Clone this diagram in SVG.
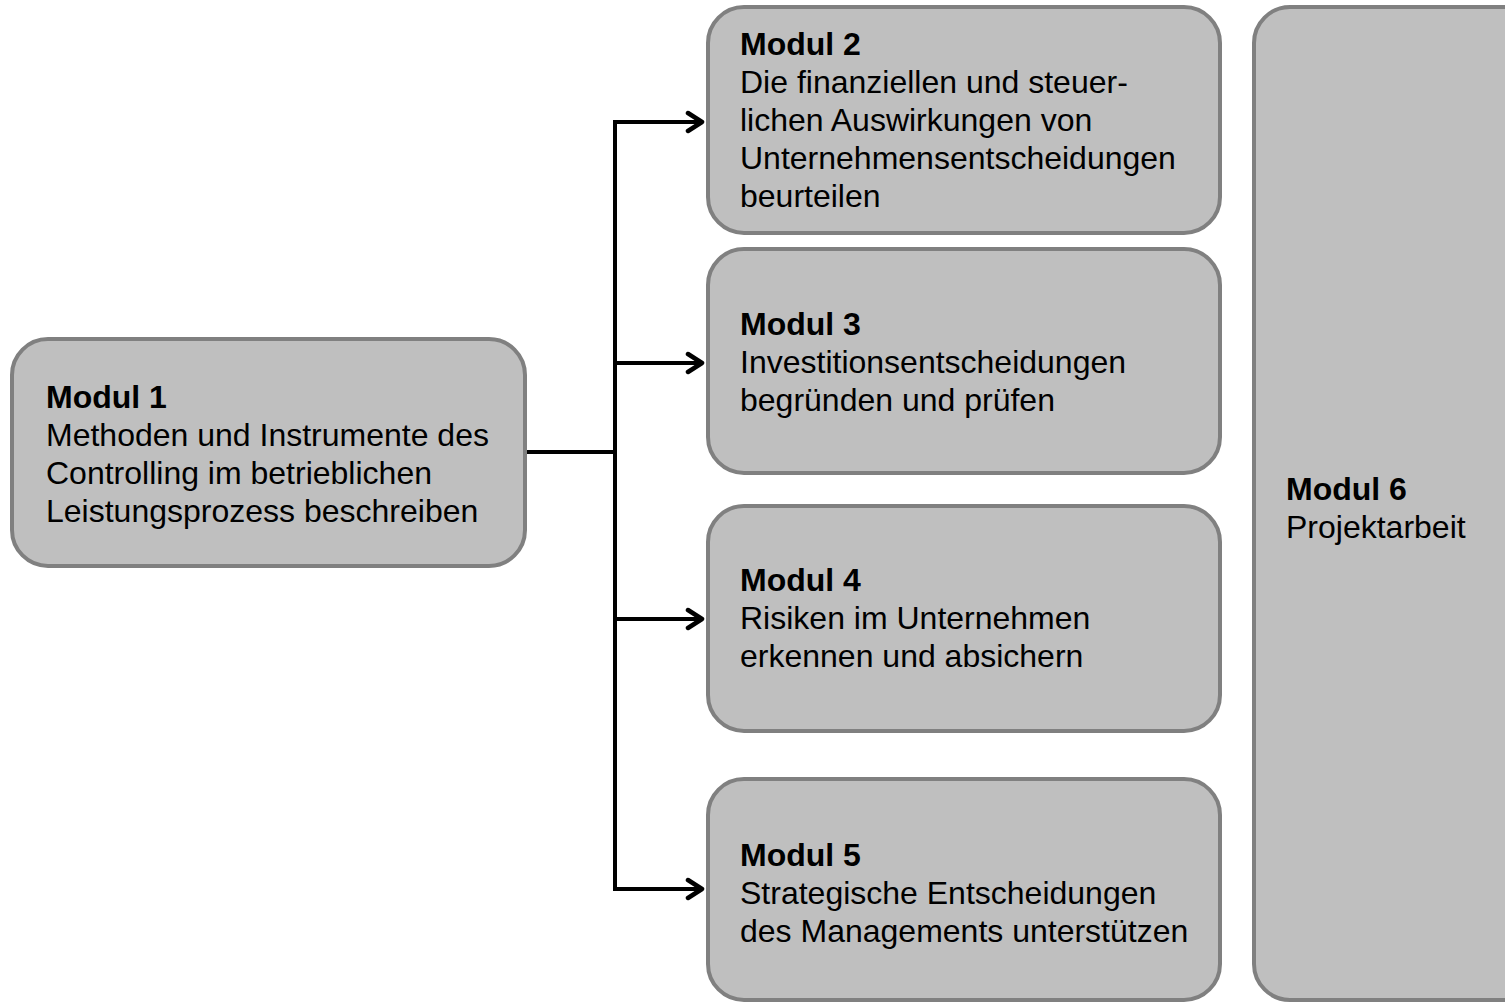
<svg xmlns="http://www.w3.org/2000/svg" width="1505" height="1005" viewBox="0 0 1505 1005">
<defs>
<style>
.box{fill:#bfbfbf;stroke:#808080;stroke-width:4}
.t{font-family:"Liberation Sans",Arial,sans-serif;font-size:32px;fill:#000}
.b{font-weight:bold}
.c{fill:none;stroke:#000;stroke-width:4}
</style>
<marker id="arr" markerWidth="20" markerHeight="24" refX="17" refY="12" orient="auto" markerUnits="userSpaceOnUse">
<path d="M3,3 L17,12 L3,21" fill="none" stroke="#000" stroke-width="4.5" stroke-linecap="round" stroke-linejoin="round"/>
</marker>
</defs>
<rect width="1505" height="1005" fill="#fff"/>
<g id="connectors">
<path class="c" d="M525,452 H617"/>
<path class="c" d="M615,120 V891"/>
<path class="c" d="M613,122 H702" marker-end="url(#arr)"/>
<path class="c" d="M615,363 H702" marker-end="url(#arr)"/>
<path class="c" d="M615,619 H702" marker-end="url(#arr)"/>
<path class="c" d="M613,889 H702" marker-end="url(#arr)"/>
</g>
<g id="modul1">
<rect class="box" x="12" y="339" width="513" height="227" rx="36"/>
<text class="t" x="46" y="408"><tspan class="b">Modul 1</tspan><tspan x="46" dy="38">Methoden und Instrumente des</tspan><tspan x="46" dy="38">Controlling im betrieblichen</tspan><tspan x="46" dy="38">Leistungsprozess beschreiben</tspan></text>
</g>
<g id="modul2">
<rect class="box" x="708" y="7" width="512" height="226" rx="36"/>
<text class="t" x="740" y="55"><tspan class="b">Modul 2</tspan><tspan x="740" dy="38">Die finanziellen und steuer-</tspan><tspan x="740" dy="38">lichen Auswirkungen von</tspan><tspan x="740" dy="38">Unternehmensentscheidungen</tspan><tspan x="740" dy="38">beurteilen</tspan></text>
</g>
<g id="modul3">
<rect class="box" x="708" y="249" width="512" height="224" rx="36"/>
<text class="t" x="740" y="335"><tspan class="b">Modul 3</tspan><tspan x="740" dy="38">Investitionsentscheidungen</tspan><tspan x="740" dy="38">begründen und prüfen</tspan></text>
</g>
<g id="modul4">
<rect class="box" x="708" y="506" width="512" height="225" rx="36"/>
<text class="t" x="740" y="591"><tspan class="b">Modul 4</tspan><tspan x="740" dy="38">Risiken im Unternehmen</tspan><tspan x="740" dy="38">erkennen und absichern</tspan></text>
</g>
<g id="modul5">
<rect class="box" x="708" y="779" width="512" height="221" rx="36"/>
<text class="t" x="740" y="866"><tspan class="b">Modul 5</tspan><tspan x="740" dy="38">Strategische Entscheidungen</tspan><tspan x="740" dy="38">des Managements unterstützen</tspan></text>
</g>
<g id="modul6">
<rect class="box" x="1254" y="7" width="290" height="993" rx="36"/>
<text class="t" x="1286" y="500"><tspan class="b">Modul 6</tspan><tspan x="1286" dy="38">Projektarbeit</tspan></text>
</g>
</svg>
